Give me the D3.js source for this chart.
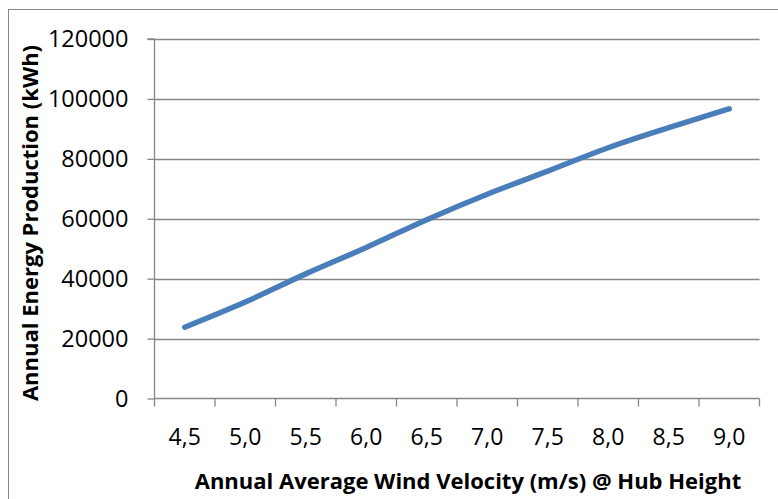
<!DOCTYPE html>
<html><head><meta charset="utf-8">
<script src="https://cdn.jsdelivr.net/npm/d3@7"></script>
<style>body{margin:0;background:#fff}svg{display:block}text{font-family:"Open Sans",sans-serif;fill:#000}</style>
</head><body><svg id="c" width="778" height="499"></svg>
<script>
const categories = ["4,5","5,0","5,5","6,0","6,5","7,0","7,5","8,0","8,5","9,0"];
const production = [23800, 32200, 41600, 50400, 59700, 68200, 75900, 83700, 90400, 96700];
const yTicks = [0, 20000, 40000, 60000, 80000, 100000, 120000];

const svg = d3.select("#c");
const L = 154.5, R = 759.5, T = 39, B = 398.5;
const gray = "#868686";

svg.append("rect").attr("x",8.5).attr("y",9.5).attr("width",800).attr("height",600)
  .attr("fill","none").attr("stroke",gray).attr("stroke-width",1);

const x = d3.scaleBand().domain(categories).range([L, R]).padding(0);
const y = d3.scaleLinear().domain([0, 120000]).range([B, T]);

// gridlines
svg.append("g").selectAll("line").data(yTicks.filter(d=>d>0)).join("line")
  .attr("x1", L).attr("x2", R).attr("y1", d=>Math.round(y(d))+0.5).attr("y2", d=>Math.round(y(d))+0.5)
  .attr("stroke", gray).attr("stroke-width",1.3);

// y axis
const ya = svg.append("g").attr("transform",`translate(${L},0)`)
  .call(d3.axisLeft(y).tickValues(yTicks).tickSize(7).tickPadding(19).tickFormat(d3.format("d")));
ya.select(".domain").attr("stroke",gray).attr("stroke-width",1.3).attr("d",`M-7,${T}H0V${B}`);
ya.selectAll(".tick line").attr("stroke",gray).attr("stroke-width",1.3);
ya.selectAll(".tick text").attr("font-size",23.5).attr("font-family","Open Sans").attr("fill","#000");

// x axis with ticks at band boundaries
const xa = svg.append("g").attr("transform",`translate(0,${B})`);
xa.append("line").attr("x1",L).attr("x2",R).attr("stroke",gray).attr("stroke-width",1.3);
const bounds = categories.map(c=>x(c)).concat([x(categories[categories.length-1])+x.bandwidth()]);
xa.selectAll(".bt").data(bounds).join("line").attr("class","bt")
  .attr("x1",d=>d).attr("x2",d=>d).attr("y1",0).attr("y2",8).attr("stroke",gray).attr("stroke-width",1.3);
xa.selectAll(".lbl").data(categories).join("text").attr("class","lbl")
  .attr("x",d=>x(d)+x.bandwidth()/2).attr("y",46).attr("text-anchor","middle")
  .attr("font-size",23).text(d=>d);

// line
const line = d3.line().x((d,i)=>x(categories[i])+x.bandwidth()/2).y(d=>y(d)).curve(d3.curveMonotoneX);
svg.append("path").datum(production).attr("d",line).attr("fill","none")
  .attr("stroke","#4a7ebb").attr("stroke-width",5.5).attr("stroke-linecap","round").attr("stroke-linejoin","round");

// titles
svg.append("text").attr("x",468).attr("y",489).attr("text-anchor","middle")
  .attr("font-size",22).attr("font-weight","bold").text("Annual Average Wind Velocity (m/s) @ Hub Height");
svg.append("text").attr("transform","translate(38,223) rotate(-90)").attr("text-anchor","middle")
  .attr("font-size",22).attr("font-weight","bold").text("Annual Energy Production (kWh)");
</script></body></html>
